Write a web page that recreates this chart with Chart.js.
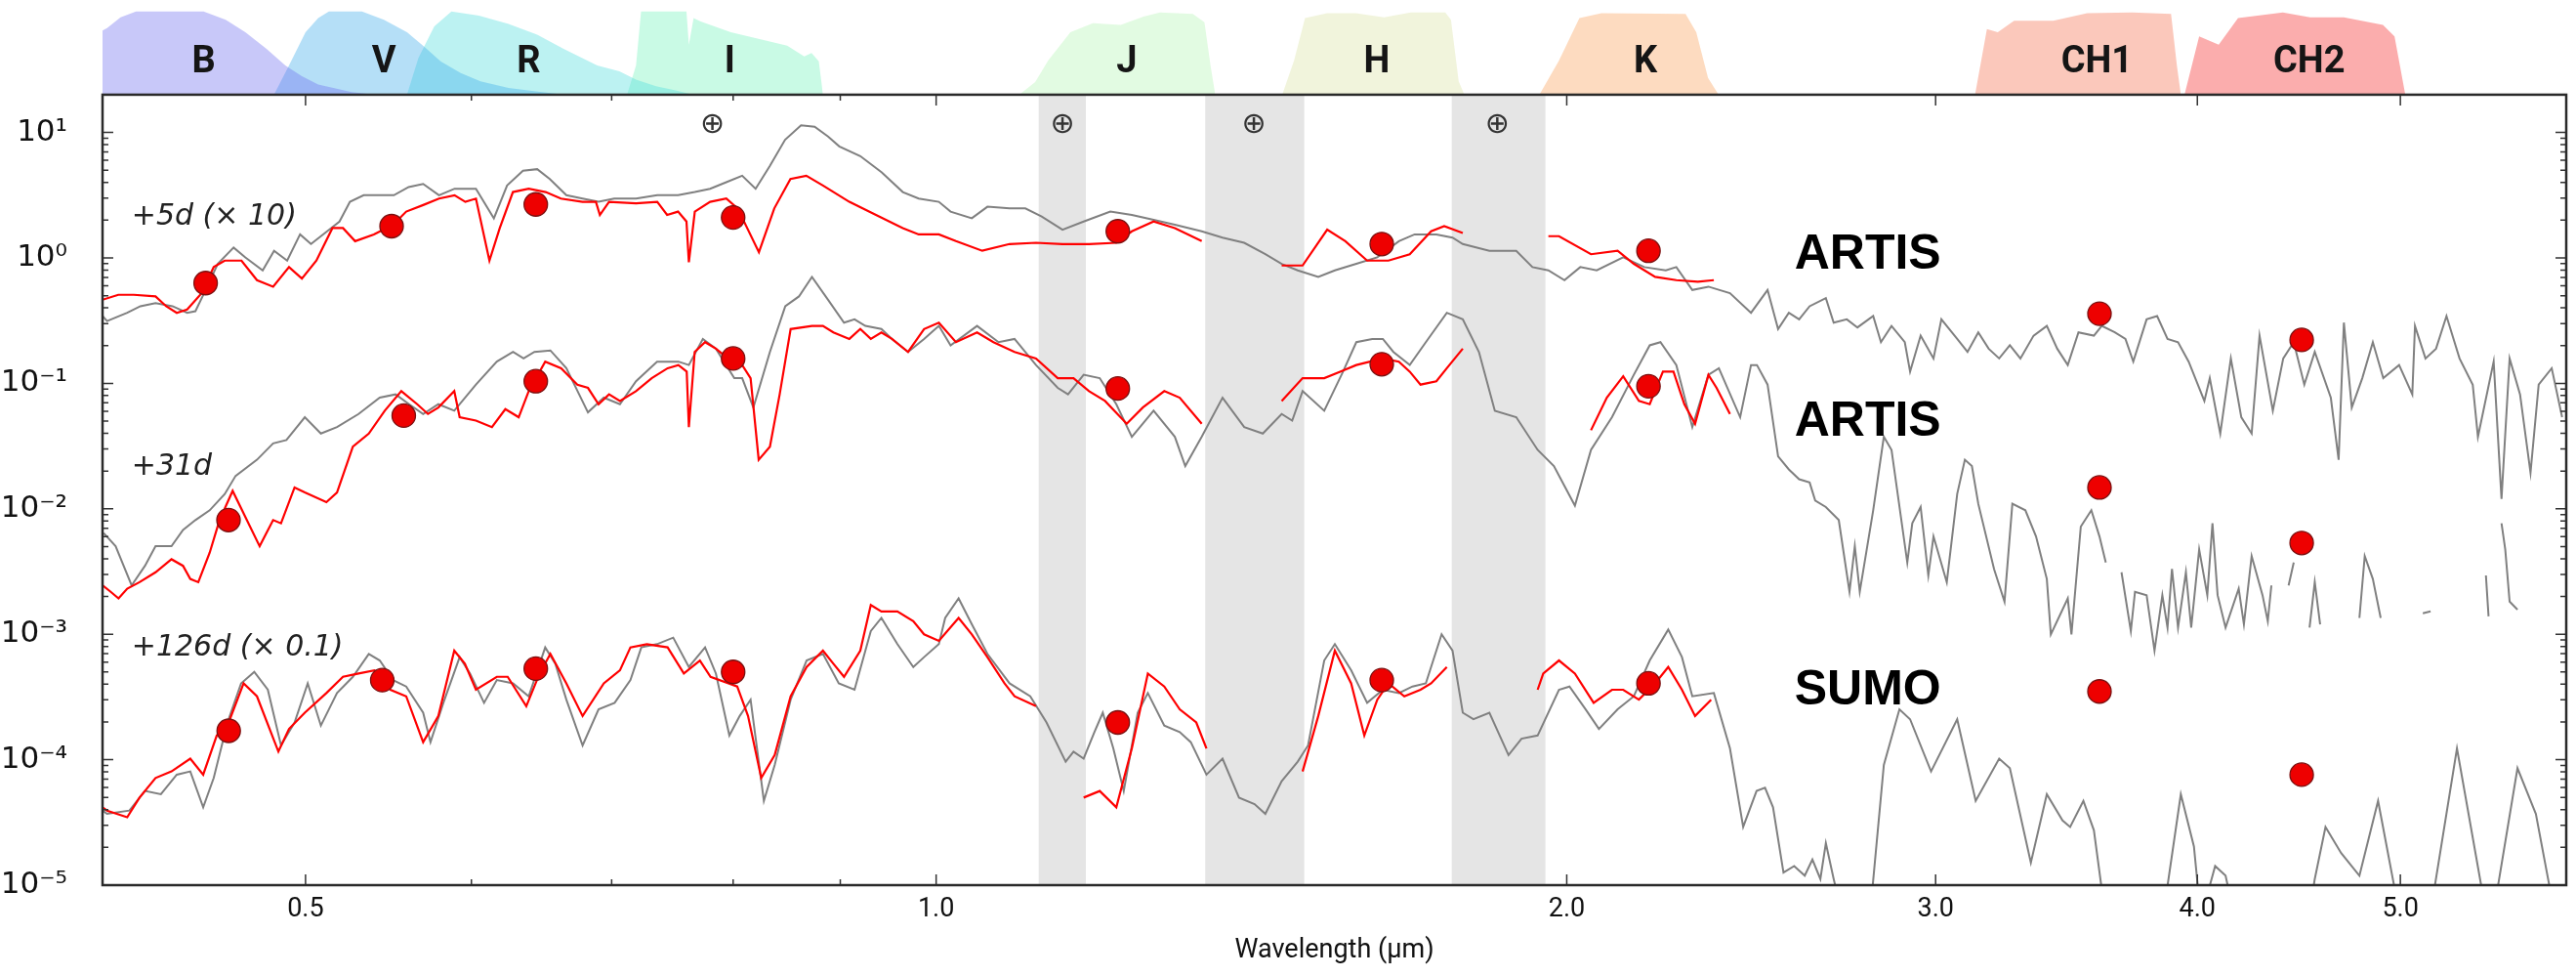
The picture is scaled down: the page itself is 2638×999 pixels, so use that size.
<!DOCTYPE html>
<html>
<head>
<meta charset="utf-8">
<script src="https://cdn.jsdelivr.net/npm/chart.js@4.4.1/dist/chart.umd.min.js"></script>
<style>
  html, body { margin: 0; padding: 0; background: #fff; }
  #wrap { width: 2638px; height: 999px; }
</style>
</head>
<body>
<div id="wrap"><canvas id="sedChart"></canvas></div>
<script>
// axis limits: wavelength in micron, scaled flux
var xMin = 0.4, xMax = 6.0;
var yMin = 1e-5, yTop = 20;

var xTickValues = [0.5, 0.6, 0.7, 0.8, 0.9, 1, 2, 3, 4, 5];
var xTickLabels = ['0.5', '', '', '', '', '1.0', '2.0', '3.0', '4.0', '5.0'];
var yDecades = [-5, -4, -3, -2, -1, 0, 1];
var yDecadeLabels = ['10⁻⁵', '10⁻⁴', '10⁻³', '10⁻²', '10⁻¹', '10⁰', '10¹'];

// filter transmission curves (normalised) drawn above the frame
var filterNames = ['B', 'V', 'R', 'I', 'J', 'H', 'K', 'CH1', 'CH2'];
var filterLabelX = [0.447, 0.545, 0.639, 0.797, 1.233, 1.623, 2.181, 3.582, 4.523];
var filterB = [[0.395,0.70],[0.402,0.80],[0.408,0.93],[0.415,1.0],[0.447,1.0],[0.458,0.9],[0.468,0.75],[0.479,0.55],[0.489,0.35],[0.498,0.22],[0.507,0.12],[0.526,0.03],[0.539,0]];
var filterV = [[0.483,0],[0.491,0.35],[0.500,0.75],[0.507,0.92],[0.513,1.0],[0.532,1.0],[0.545,0.9],[0.559,0.75],[0.570,0.57],[0.580,0.4],[0.593,0.26],[0.606,0.16],[0.625,0.08],[0.644,0.04],[0.664,0]];
var filterR = [[0.559,0],[0.566,0.44],[0.576,0.82],[0.587,1.0],[0.605,0.95],[0.625,0.85],[0.645,0.72],[0.664,0.55],[0.689,0.35],[0.706,0.28],[0.719,0.18],[0.735,0.1],[0.751,0.05],[0.765,0]];
var filterI = [[0.712,0],[0.719,0.35],[0.723,1.0],[0.760,1.0],[0.762,0.6],[0.766,0.92],[0.772,0.88],[0.798,0.75],[0.849,0.59],[0.865,0.46],[0.872,0.5],[0.879,0.4],[0.883,0]];
var filterJ = [[1.096,0],[1.115,0.15],[1.131,0.41],[1.159,0.75],[1.188,0.86],[1.225,0.84],[1.256,0.94],[1.279,0.99],[1.326,0.97],[1.343,0.87],[1.352,0.35],[1.359,0]];
var filterH = [[1.463,0],[1.482,0.41],[1.500,0.92],[1.537,0.98],[1.586,0.98],[1.636,0.93],[1.685,0.99],[1.750,0.99],[1.761,0.9],[1.776,0.16],[1.787,0]];
var filterK = [[1.941,0],[1.983,0.41],[2.028,0.92],[2.078,0.98],[2.279,0.97],[2.306,0.75],[2.336,0.2],[2.363,0]];
var filterCH1 = [[3.133,0],[3.174,0.79],[3.212,0.75],[3.270,0.89],[3.414,0.89],[3.544,0.98],[3.723,0.99],[3.886,0.97],[3.911,0.35],[3.928,0]];
var filterCH2 = [[3.944,0],[4.008,0.7],[4.095,0.6],[4.183,0.92],[4.394,0.99],[4.528,0.93],[4.699,0.93],[4.905,0.84],[4.968,0.7],[5.027,0]];
var filterCurves = [filterB, filterV, filterR, filterI, filterJ, filterH, filterK, filterCH1, filterCH2];
var filterColors = ['rgba(110,110,240,0.38)', 'rgba(60,170,235,0.38)', 'rgba(80,220,220,0.38)', 'rgba(100,240,180,0.35)',
    'rgba(150,240,150,0.28)', 'rgba(210,220,140,0.30)', 'rgba(250,160,90,0.38)', 'rgba(245,110,75,0.38)', 'rgba(245,60,60,0.42)'];

// telluric regions
var tellStart = [1.119, 1.344, 1.762];
var tellEnd = [1.179, 1.499, 1.954];
var earthX = [0.782, 1.149, 1.418, 1.853];
var earthY = 11.4;

var epochNames = ['+5d (× 10)', '+31d', '+126d (× 0.1)'];
var epochLabelAt = [[0.413, 2.1], [0.413, 0.0216], [0.413, 7.8e-4]];
var modelNames = ['ARTIS', 'ARTIS', 'SUMO'];
var modelLabelAt = [[2.569, 1.05], [2.569, 0.049], [2.569, 3.55e-4]];

// +5d
var model5d = [[0.400,0.344],[0.402,0.314],[0.411,0.365],[0.417,0.412],[0.424,0.437],[0.432,0.412],[0.439,0.365],[0.443,0.376],[0.448,0.555],[0.454,0.897],[0.462,1.21],[0.468,1.01],[0.477,0.796],[0.483,1.14],[0.490,0.952],[0.497,1.54],[0.503,1.29],[0.512,1.63],[0.519,1.95],[0.525,2.80],[0.533,3.16],[0.541,3.16],[0.551,3.16],[0.560,3.67],[0.569,3.89],[0.579,3.16],[0.589,3.56],[0.603,3.56],[0.615,2.07],[0.624,3.78],[0.635,4.95],[0.645,5.10],[0.654,4.26],[0.666,3.16],[0.678,2.97],[0.690,2.80],[0.702,2.97],[0.719,2.97],[0.736,3.16],[0.753,3.16],[0.767,3.35],[0.780,3.56],[0.794,4.01],[0.808,4.52],[0.820,3.56],[0.833,5.41],[0.847,8.74],[0.862,11.4],[0.875,11.1],[0.888,9.28],[0.899,7.75],[0.920,6.48],[0.942,4.80],[0.964,3.35],[0.981,2.97],[1.003,2.80],
  [1.016,2.34],[1.040,2.07],[1.058,2.56],[1.084,2.48],[1.103,2.48],[1.123,2.14],[1.149,1.68],[1.176,1.95],[1.211,2.34],[1.240,2.20],[1.270,2.01],[1.300,1.84],[1.339,1.63],[1.370,1.45],[1.403,1.32],[1.436,1.07],[1.462,0.897],[1.488,0.796],[1.522,0.706],[1.550,0.796],[1.587,0.897],[1.624,1.01],[1.663,1.36],[1.692,1.54],[1.733,1.54],[1.764,1.45],[1.784,1.29],[1.837,1.14],[1.892,1.14],[1.926,0.845],[1.960,0.796],[1.995,0.665],[2.030,0.845],[2.067,0.796],[2.128,1.01],[2.178,0.845],[2.230,0.796],[2.256,0.845],[2.296,0.555],[2.337,0.590],[2.393,0.523],[2.449,0.365],
  [2.494,0.555],[2.523,0.271],[2.553,0.365],[2.582,0.324],[2.612,0.412],[2.659,0.478],[2.682,0.305],[2.721,0.324],[2.753,0.279],[2.801,0.344],[2.825,0.213],[2.858,0.287],[2.900,0.213],[2.917,0.124],[2.951,0.240],[2.993,0.158],[3.019,0.324],[3.072,0.226],[3.107,0.178],[3.144,0.255],[3.180,0.189],[3.217,0.158],[3.255,0.201],[3.293,0.158],[3.341,0.240],[3.390,0.287],[3.429,0.189],[3.469,0.140],[3.510,0.255],[3.570,0.240],[3.601,0.287],[3.653,0.255],[3.696,0.226],[3.728,0.149],[3.783,0.324],[3.827,0.344],[3.871,0.226],[3.916,0.213],[3.962,0.149],[4.031,0.0724],[4.055,0.110],[4.102,0.0398],[4.150,0.158],[4.198,0.0537],[4.246,0.0398],[4.283,0.240],[4.346,0.0605],[4.396,0.158],[4.447,0.213],[4.499,0.0977],[4.551,0.178],[4.632,0.0769],[4.672,0.0246],[4.699,0.305],[4.740,0.0642],[4.795,0.110],[4.851,0.213],[4.907,0.110],[4.993,0.140],[5.066,0.0817],[5.081,0.287],[5.140,0.158],[5.200,0.189],[5.260,0.344],[5.336,0.158],[5.414,0.0977],[5.445,0.0375],[5.540,0.149],[5.588,0.0120],[5.638,0.158],[5.703,0.0817],[5.769,0.0194],[5.821,0.0977],[5.905,0.132],[5.973,0.0537]];
var obs5d = [[0.400,0.464],[0.407,0.508],[0.414,0.508],[0.424,0.493],[0.429,0.412],[0.434,0.365],[0.439,0.388],[0.446,0.523],[0.452,0.845],[0.4575,0.952],[0.466,0.952],[0.474,0.665],[0.4825,0.590],[0.491,0.845],[0.498,0.685],[0.506,0.952],[0.515,1.73],[0.521,1.73],[0.528,1.36],[0.539,1.54],[0.5505,1.84],[0.5585,2.34],[0.569,2.64],[0.579,2.97],[0.589,3.16],[0.596,2.80],[0.603,2.97],[0.612,0.952],[0.619,1.73],[0.628,3.35],[0.639,3.56],[0.651,3.35],[0.662,2.97],[0.678,2.80],[0.688,2.80],[0.691,2.20],[0.698,2.80],[0.719,2.72],[0.736,2.80],[0.744,2.20],[0.753,2.34],[0.760,1.95],[0.762,0.924],[0.767,2.34],[0.780,2.80],[0.794,2.97],[0.804,2.48],[0.823,1.11],[0.837,2.48],[0.852,4.26],[0.867,4.52],[0.883,3.78],[0.909,2.80],[0.936,2.20],[0.964,1.73],[0.981,1.54],[1.003,1.54],
  [1.022,1.36],[1.052,1.14],[1.084,1.29],[1.116,1.32],[1.149,1.29],[1.183,1.29],[1.219,1.32],[1.240,1.63],[1.270,1.95],[1.300,1.73],[1.339,1.36],[1.36,null],
  [1.462,0.870],[1.496,0.870],[1.537,1.68],[1.568,1.36],[1.606,0.952],[1.644,0.952],[1.683,1.07],[1.723,1.63],[1.748,1.79],[1.784,1.58],[1.85,null],
  [1.960,1.49],[1.983,1.49],[2.054,1.07],[2.115,1.14],[2.153,0.897],[2.204,0.706],[2.256,0.665],[2.310,0.645],[2.351,0.665]];
var phot5d = [[0.448,0.63],[0.5496,1.79],[0.644,2.67],[0.800,2.10],[1.221,1.63],[1.632,1.29],[2.188,1.14],[3.592,0.359],[4.486,0.222]];

// +31d
var model31d = [[0.4005,0.00640],[0.4058,0.00503],[0.4130,0.00245],[0.4191,0.00351],[0.424,0.00503],[0.4315,0.00503],[0.437,0.00679],[0.443,0.00813],[0.450,0.00973],[0.4575,0.0131],
  [0.463,0.0183],[0.474,0.0246],[0.4825,0.0332],[0.4896,0.0353],[0.4996,0.0537],[0.5085,0.0398],[0.5176,0.0448],[0.530,0.0570],[0.5425,0.0769],[0.552,0.0817],[0.5603,0.0682],[0.569,0.0570],[0.5786,0.0682],[0.5888,0.0605],[0.603,0.0977],[0.617,0.149],[0.6281,0.178],[0.6354,0.158],[0.643,0.178],[0.6544,0.183],[0.666,0.132],[0.682,0.0587],[0.694,0.0769],[0.7064,0.0682],[0.719,0.104],[0.7358,0.149],[0.7533,0.149],[0.762,0.140],[0.7738,0.226],[0.785,0.189],[0.801,0.110],[0.808,0.110],[0.818,0.0642],[0.833,0.178],[0.8472,0.412],[0.860,0.493],[0.8724,0.706],[0.888,0.464],[0.9037,0.305],[0.9142,0.324],[0.9251,0.287],[0.9416,0.271],[0.9526,0.226],[0.9696,0.178],[0.9868,0.226],[1.003,0.287],
  [1.016,0.201],[1.046,0.287],[1.071,0.213],[1.090,0.226],[1.116,0.140],[1.143,0.0920],[1.156,0.0817],[1.176,0.117],[1.197,0.110],[1.219,0.0682],[1.240,0.0375],[1.270,0.0605],[1.300,0.0375],[1.315,0.0219],[1.339,0.0375],[1.370,0.0769],[1.403,0.0448],[1.432,0.0398],[1.462,0.0570],[1.479,0.0505],[1.496,0.0867],[1.532,0.0605],[1.564,0.124],[1.587,0.213],[1.615,0.226],[1.634,0.226],[1.653,0.178],[1.683,0.140],[1.713,0.213],[1.753,0.365],[1.784,0.324],[1.816,0.178],[1.848,0.0605],[1.892,0.0537],[1.937,0.0295],[1.972,0.0219],[2.018,0.0106],[2.054,0.0295],[2.102,0.0537],[2.153,0.117],[2.191,0.201],[2.217,0.213],[2.256,0.140],[2.296,0.0448],[2.337,0.117],[2.364,0.132],[2.420,0.0537],[2.449,0.140],[2.465,0.140],[2.494,0.0977],[2.523,0.0262],[2.553,0.0206],[2.582,0.0172],[2.612,0.0162],[2.628,0.01164],[2.659,0.01033],[2.697,0.00813],[2.729,0.00218],[2.745,0.00503],[2.760,0.00218],[2.801,0.00973],[2.834,0.0375],[2.858,0.0295],[2.908,0.00373],[2.924,0.00766],[2.951,0.01033],[2.976,0.00294],[2.993,0.00602],[3.037,0.00260],[3.072,0.01313],[3.098,0.0246],[3.122,0.0219],[3.144,0.01097],[3.199,0.00331],[3.236,0.00182],[3.264,0.01097],[3.311,0.00973],[3.350,0.00602],[3.390,0.00276],[3.405,0.000998],[3.469,0.00193],[3.483,0.000998],[3.519,0.00721],[3.560,0.00973],[3.592,0.00602],[3.617,0.00373],[3.65,null],
  [3.680,0.00312],[3.718,0.00106],[3.735,0.00218],[3.783,0.00205],[3.816,0.000740],[3.849,0.00205],[3.871,0.00113],[3.890,0.00331],[3.916,0.00113],[3.950,0.00312],[3.973,0.00113],[4.008,0.00474],[4.044,0.00205],[4.067,0.00766],[4.090,0.00205],[4.126,0.00113],[4.186,0.00231],[4.210,0.00120],[4.246,0.00420],[4.297,0.00205],[4.322,0.00127],[4.339,0.00245],[4.38,null],
  [4.422,0.00245],[4.447,0.00373],[4.49,null],[4.525,0.00113],[4.551,0.00260],[4.578,0.00120],[4.7,null],[4.780,0.00135],[4.808,0.00420],[4.851,0.00276],[4.893,0.00135],[5.0,null],[5.125,0.00147],[5.169,0.00152],[5.3,null],[5.493,0.00294],[5.509,0.00139],[5.55,null],[5.588,0.00766],[5.611,0.00474],[5.638,0.00182],[5.687,0.00157]];
var obs31d = [[0.400,0.00245],[0.4036,0.00218],[0.4071,0.00193],[0.411,0.00231],[0.4166,0.00260],[0.424,0.00312],[0.4315,0.00396],[0.437,0.00351],[0.4405,0.00276],[0.4444,0.00260],[0.450,0.00447],[0.4549,0.00813],[0.4615,0.0139],[0.4754,0.00503],[0.4825,0.00813],[0.4867,0.00766],[0.4940,0.0148],[0.4996,0.0135],[0.5116,0.0113],[0.5176,0.0135],[0.5267,0.0313],[0.536,0.0398],[0.5455,0.0605],[0.5555,0.0867],[0.5653,0.0682],[0.572,0.0570],[0.5786,0.0642],[0.5888,0.0867],[0.5923,0.0537],[0.603,0.0505],[0.6137,0.0448],[0.6228,0.0623],[0.6320,0.0537],[0.639,0.0867],[0.6507,0.149],[0.6622,0.132],[0.6741,0.0977],[0.682,0.0920],[0.690,0.0682],[0.698,0.0817],[0.7064,0.0724],[0.719,0.0867],[0.7315,0.110],[0.7444,0.132],[0.7533,0.140],[0.7602,0.124],[0.762,0.0448],[0.7669,0.178],[0.7757,0.213],[0.785,0.189],[0.7990,0.149],[0.808,0.140],[0.8155,0.110],[0.8228,0.0246],[0.833,0.0313],[0.842,0.0817],[0.8522,0.271],[0.8724,0.287],[0.883,0.287],[0.8932,0.255],[0.909,0.226],[0.920,0.271],[0.9307,0.226],[0.9416,0.255],[0.9526,0.226],[0.9696,0.178],[0.9868,0.271],[1.003,0.305],
  [1.022,0.213],[1.046,0.255],[1.065,0.213],[1.090,0.178],[1.116,0.158],[1.143,0.110],[1.163,0.110],[1.183,0.0867],[1.204,0.0724],[1.233,0.0476],[1.255,0.0642],[1.285,0.0867],[1.307,0.0769],[1.339,0.0476],[1.40,null],
  [1.462,0.0724],[1.496,0.110],[1.532,0.110],[1.559,0.124],[1.587,0.140],[1.634,0.158],[1.663,0.149],[1.683,0.124],[1.703,0.0977],[1.733,0.104],[1.753,0.132],[1.784,0.189],[1.9,null],
  [2.054,0.0423],[2.090,0.0769],[2.128,0.114],[2.165,0.0724],[2.191,0.0682],[2.223,0.124],[2.249,0.124],[2.276,0.0682],[2.303,0.0476],[2.337,0.117],[2.358,0.0920],[2.393,0.0570]];
var phot31d = [[0.4594,0.00813],[0.557,0.0553],[0.644,0.104],[0.800,0.158],[1.221,0.0910],[1.632,0.142],[2.188,0.0948],[3.592,0.0148],[4.486,0.00534]];

// +126d
var model126d = [[0.400,3.93e-5],[0.402,3.70e-5],[0.412,3.93e-5],[0.4191,5.63e-5],[0.4265,5.30e-5],[0.434,7.60e-5],[0.4405,8.06e-5],[0.4468,4.17e-5],[0.452,7.15e-5],[0.4589,1.98e-4],[0.4658,4.06e-4],[0.4726,5.01e-4],[0.4797,3.61e-4],[0.4867,1.30e-4],[0.494,1.98e-4],[0.5012,4.06e-4],[0.5085,1.87e-4],[0.5176,3.40e-4],[0.5267,4.58e-4],[0.536,6.97e-4],[0.5425,6.18e-4],[0.5505,4.31e-4],[0.5585,3.83e-4],[0.569,2.37e-4],[0.5736,1.38e-4],[0.5818,2.84e-4],[0.5923,6.57e-4],[0.5991,4.86e-4],[0.6084,2.84e-4],[0.617,4.31e-4],[0.6281,4.06e-4],[0.639,3.20e-4],[0.6507,7.86e-4],[0.658,5.82e-4],[0.666,3.01e-4],[0.678,1.30e-4],[0.690,2.52e-4],[0.7023,2.84e-4],[0.7146,4.31e-4],[0.7232,7.86e-4],[0.7358,8.34e-4],[0.749,9.40e-4],[0.762,5.48e-4],[0.7757,7.86e-4],[0.785,4.86e-4],[0.7967,1.56e-4],[0.8058,2.23e-4],[0.8155,3.01e-4],[0.8275,4.70e-5],[0.8374,9.09e-5],[0.8522,3.01e-4],[0.8673,6.18e-4],[0.883,6.97e-4],[0.8985,4.06e-4],[0.9142,3.61e-4],[0.9307,1.06e-3],[0.9416,1.35e-3],[0.9583,8.34e-4],[0.9752,5.48e-4],[0.9868,6.57e-4],[1.003,8.34e-4],
  [1.010,1.35e-3],[1.025,1.93e-3],[1.040,1.20e-3],[1.058,6.97e-4],[1.084,4.06e-4],[1.109,3.20e-4],[1.129,1.98e-4],[1.153,9.65e-5],[1.163,1.16e-4],[1.176,1.02e-4],[1.190,1.66e-4],[1.201,2.37e-4],[1.215,1.23e-4],[1.229,5.63e-5],[1.248,2.37e-4],[1.262,3.40e-4],[1.285,1.87e-4],[1.307,1.66e-4],[1.323,1.38e-4],[1.346,7.60e-5],[1.370,1.02e-4],[1.395,4.99e-5],[1.419,4.43e-5],[1.436,3.70e-5],[1.462,6.74e-5],[1.488,9.65e-5],[1.505,1.30e-4],[1.532,6.18e-4],[1.550,8.34e-4],[1.578,5.16e-4],[1.606,2.84e-4],[1.634,3.61e-4],[1.663,3.40e-4],[1.688,3.83e-4],[1.713,4.06e-4],[1.743,9.98e-4],[1.764,7.40e-4],[1.784,2.37e-4],[1.805,2.10e-4],[1.837,2.37e-4],[1.876,1.09e-4],[1.903,1.47e-4],[1.937,1.56e-4],[1.983,3.61e-4],[2.006,3.83e-4],[2.042,2.52e-4],[2.072,1.76e-4],[2.115,2.52e-4],[2.153,3.20e-4],[2.191,6.18e-4],[2.236,1.09e-3],[2.270,6.57e-4],[2.296,3.20e-4],[2.351,3.40e-4],[2.393,1.23e-4],[2.428,2.91e-5],[2.464,5.63e-5],[2.487,5.97e-5],
  [2.509,4.17e-5],[2.538,1.26e-5],[2.568,1.42e-5],[2.598,1.19e-5],[2.620,1.60e-5],[2.643,1.12e-5],[2.659,2.16e-5],[2.682,1.12e-5],[2.705,6.1e-6],[2.792,6.1e-6],[2.834,9.09e-5],[2.883,2.52e-4],[2.917,2.10e-4],[2.985,8.06e-5],[3.072,2.10e-4],[3.135,4.70e-5],[3.217,1.02e-4],[3.255,8.56e-5],[3.331,1.51e-5],[3.390,5.30e-5],[3.449,3.28e-5],[3.478,2.91e-5],[3.529,4.70e-5],[3.570,2.74e-5],[3.601,9.3e-6],[3.633,6.1e-6],[3.849,6.1e-6],[3.871,9.9e-6],[3.928,5.30e-5],[3.985,2.03e-5],[4.013,6.1e-6],[4.044,6.1e-6],[4.055,9.9e-6],[4.079,1.42e-5],[4.126,1.19e-5],[4.162,6.1e-6],[4.525,6.1e-6],[4.551,1.12e-5],[4.605,2.91e-5],[4.685,1.80e-5],[4.780,1.19e-5],[4.879,4.70e-5],[4.993,6.1e-6],[5.169,6.1e-6],[5.321,1.23e-4],[5.493,6.1e-6],[5.540,6.1e-6],[5.687,8.56e-5],[5.803,3.70e-5],[5.922,6.1e-6]];
var obs126d = [[0.400,4.17e-5],[0.402,3.93e-5],[0.411,3.48e-5],[0.4166,4.99e-5],[0.424,7.15e-5],[0.4315,8.06e-5],[0.4405,1.02e-4],[0.4468,7.60e-5],[0.4535,1.56e-4],[0.4595,1.98e-4],[0.4671,4.06e-4],[0.474,3.20e-4],[0.4853,1.16e-4],[0.491,1.76e-4],[0.4996,2.37e-4],[0.5116,3.40e-4],[0.521,4.58e-4],[0.530,4.86e-4],[0.5393,5.16e-4],[0.5489,3.61e-4],[0.5585,3.20e-4],[0.569,1.38e-4],[0.5786,2.23e-4],[0.5888,7.40e-4],[0.5957,5.82e-4],[0.603,3.61e-4],[0.617,4.58e-4],[0.6244,4.58e-4],[0.6373,2.67e-4],[0.6467,4.86e-4],[0.6544,6.97e-4],[0.666,4.06e-4],[0.678,2.23e-4],[0.694,4.06e-4],[0.7064,5.16e-4],[0.7146,7.86e-4],[0.7276,8.34e-4],[0.7444,7.86e-4],[0.7578,4.86e-4],[0.7713,6.18e-4],[0.7804,4.58e-4],[0.8036,3.83e-4],[0.8132,2.23e-4],[0.8251,7.15e-5],[0.8374,1.09e-4],[0.8522,3.20e-4],[0.8673,5.48e-4],[0.883,7.40e-4],[0.8932,5.82e-4],[0.9037,4.58e-4],[0.920,7.40e-4],[0.9307,1.71e-3],[0.9416,1.52e-3],[0.9583,1.52e-3],[0.9752,1.27e-3],[0.9868,9.98e-4],[1.003,8.86e-4],
  [1.025,1.35e-3],[1.040,9.98e-4],[1.058,6.57e-4],[1.078,4.06e-4],[1.090,3.20e-4],[1.116,2.67e-4],[1.15,null],
  [1.176,4.99e-5],[1.197,5.63e-5],[1.219,4.17e-5],[1.240,1.23e-4],[1.262,4.86e-4],[1.285,3.83e-4],[1.307,2.52e-4],[1.331,1.98e-4],[1.346,1.23e-4],[1.42,null],
  [1.496,8.06e-5],[1.522,2.23e-4],[1.550,7.40e-4],[1.578,4.06e-4],[1.601,1.56e-4],[1.624,3.01e-4],[1.644,4.06e-4],[1.673,3.20e-4],[1.703,3.61e-4],[1.723,4.06e-4],[1.753,5.48e-4],[1.85,null],
  [1.937,3.61e-4],[1.949,4.86e-4],[1.983,6.18e-4],[2.018,4.86e-4],[2.060,2.84e-4],[2.102,3.61e-4],[2.128,3.61e-4],[2.165,3.01e-4],[2.204,4.06e-4],[2.236,5.48e-4],[2.270,3.61e-4],[2.303,2.23e-4],[2.344,3.01e-4]];
var phot126d = [[0.4595,1.70e-4],[0.544,4.31e-4],[0.644,5.32e-4],[0.800,5.01e-4],[1.221,1.98e-4],[1.632,4.31e-4],[2.188,4.06e-4],[3.592,3.50e-4],[4.486,7.60e-5]];


function pts(arr) {
    return arr.map(function (p) { return {x: p[0], y: p[1]}; });
}

var datasets = [];

// photometry on top
[phot5d, phot31d, phot126d].forEach(function (p) {
    datasets.push({
        data: pts(p), showLine: false, pointRadius: 12, pointBackgroundColor: '#ee0000',
        pointBorderColor: '#7a1010', pointBorderWidth: 1.3, yAxisID: 'y'
    });
});
// observed spectra
[obs5d, obs31d, obs126d].forEach(function (s) {
    datasets.push({
        data: pts(s), borderColor: '#ff0000', borderWidth: 2.2, pointRadius: 0,
        spanGaps: false, fill: false, yAxisID: 'y'
    });
});
// model spectra
[model5d, model31d, model126d].forEach(function (s) {
    datasets.push({
        data: pts(s), borderColor: '#808080', borderWidth: 2, pointRadius: 0,
        spanGaps: false, fill: false, yAxisID: 'y'
    });
});
// telluric bands
for (var i = 0; i < tellStart.length; i++) {
    datasets.push({
        data: [{x: tellStart[i], y: yTop}, {x: tellEnd[i], y: yTop}],
        borderWidth: 0, pointRadius: 0, fill: 'start', backgroundColor: '#e5e5e5', yAxisID: 'y'
    });
}
// filters
filterCurves.forEach(function (f, k) {
    datasets.push({
        data: pts(f), borderWidth: 0, pointRadius: 0, fill: 'origin',
        backgroundColor: filterColors[k], yAxisID: 'yF'
    });
});

function isDecade(v) {
    var l = Math.log10(v);
    return Math.abs(l - Math.round(l)) < 1e-9;
}

function noPadding(s) {
    s.paddingTop = 0;
    s.paddingBottom = 0;
    s.paddingLeft = 0;
    s.paddingRight = 0;
}

var framePlugin = {
    id: 'frame',
    afterDatasetsDraw: function (chart) {
        var ctx = chart.ctx;
        var x = chart.scales.x, y = chart.scales.y, yF = chart.scales.yF;
        var top = y.getPixelForValue(yTop), bottom = y.bottom;
        var left = x.left, right = x.right;
        ctx.save();

        // inward tick marks
        ctx.strokeStyle = '#333';
        ctx.lineWidth = 1.5;
        ctx.beginPath();
        x.ticks.forEach(function (t) {
            var px = x.getPixelForValue(t.value);
            var len = t.label ? 11 : 6;
            ctx.moveTo(px, bottom); ctx.lineTo(px, bottom - len);
            ctx.moveTo(px, top); ctx.lineTo(px, top + len);
        });
        y.ticks.forEach(function (t) {
            var py = y.getPixelForValue(t.value);
            var len = t.label ? 11 : 6;
            ctx.moveTo(left, py); ctx.lineTo(left + len, py);
            ctx.moveTo(right, py); ctx.lineTo(right - len, py);
        });
        ctx.stroke();

        ctx.strokeStyle = '#2a2a2a';
        ctx.lineWidth = 2.5;
        ctx.strokeRect(left, top, right - left, bottom - top);

        // filter names
        ctx.fillStyle = '#151515';
        ctx.textAlign = 'center';
        ctx.textBaseline = 'middle';
        ctx.font = 'bold 38px "Liberation Sans Narrow", Roboto';
        filterNames.forEach(function (n, k) {
            ctx.fillText(n, x.getPixelForValue(filterLabelX[k]), yF.getPixelForValue(0.376));
        });

        // telluric markers
        ctx.fillStyle = '#333';
        ctx.font = '30px "DejaVu Sans"';
        earthX.forEach(function (e) {
            ctx.fillText('⊕', x.getPixelForValue(e), y.getPixelForValue(earthY));
        });

        // epoch labels
        ctx.textAlign = 'left';
        ctx.fillStyle = '#222';
        ctx.font = 'italic 30px "DejaVu Sans"';
        epochNames.forEach(function (n, k) {
            ctx.fillText(n, x.getPixelForValue(epochLabelAt[k][0]), y.getPixelForValue(epochLabelAt[k][1]));
        });

        // model names
        ctx.fillStyle = '#000';
        ctx.font = 'bold 50px "Liberation Sans"';
        modelNames.forEach(function (n, k) {
            ctx.fillText(n, x.getPixelForValue(modelLabelAt[k][0]), y.getPixelForValue(modelLabelAt[k][1]));
        });
        ctx.restore();
    }
};

Chart.defaults.font.family = '"DejaVu Sans"';

var sedChart = new Chart('sedChart', {
    type: 'line',
    data: {datasets: datasets},
    options: {
        responsive: true,
        maintainAspectRatio: false,
        animation: false,
        devicePixelRatio: 1,
        layout: {autoPadding: false, padding: {top: 5, right: 10, left: 0, bottom: 0}},
        plugins: {
            legend: {display: false},
            tooltip: {enabled: false}
        },
        elements: {line: {tension: 0}},
        scales: {
            x: {
                type: 'logarithmic',
                min: xMin,
                max: xMax,
                position: 'bottom',
                grid: {display: false, drawTicks: false},
                border: {display: false},
                afterBuildTicks: function (s) {
                    s.ticks = xTickValues.map(function (v) { return {value: v}; });
                },
                afterFit: function (s) {
                    s.height = 93;
                    noPadding(s);
                },
                ticks: {
                    autoSkip: false,
                    maxRotation: 0,
                    padding: 9,
                    color: '#111',
                    font: {family: 'Roboto', size: 27},
                    callback: function (v, i) { return xTickLabels[i]; }
                },
                title: {
                    display: true,
                    text: 'Wavelength (μm)',
                    color: '#111',
                    font: {family: 'Roboto', size: 27},
                    padding: {top: 0, bottom: 10}
                }
            },
            y: {
                type: 'logarithmic',
                min: yMin,
                max: 104,
                position: 'left',
                grid: {display: false, drawTicks: false},
                border: {display: false},
                afterBuildTicks: function (s) {
                    var t = [];
                    yDecades.forEach(function (d) {
                        t.push({value: Math.pow(10, d)});
                        if (d < 1) {
                            for (var m = 2; m <= 9; m++) t.push({value: m * Math.pow(10, d)});
                        }
                    });
                    s.ticks = t;
                },
                afterFit: function (s) {
                    s.width = 105;
                    noPadding(s);
                },
                ticks: {
                    autoSkip: false,
                    padding: 36,
                    color: '#111',
                    font: {family: '"DejaVu Sans"', size: 31},
                    callback: function (v) {
                        if (!isDecade(v)) return '';
                        return yDecadeLabels[yDecades.indexOf(Math.round(Math.log10(v)))];
                    }
                }
            },
            yF: {
                type: 'linear',
                min: -9.52,
                max: 1.08,
                display: false,
                ticks: {display: false},
                afterFit: noPadding
            }
        }
    },
    plugins: [framePlugin]
});
</script>
</body>
</html>
